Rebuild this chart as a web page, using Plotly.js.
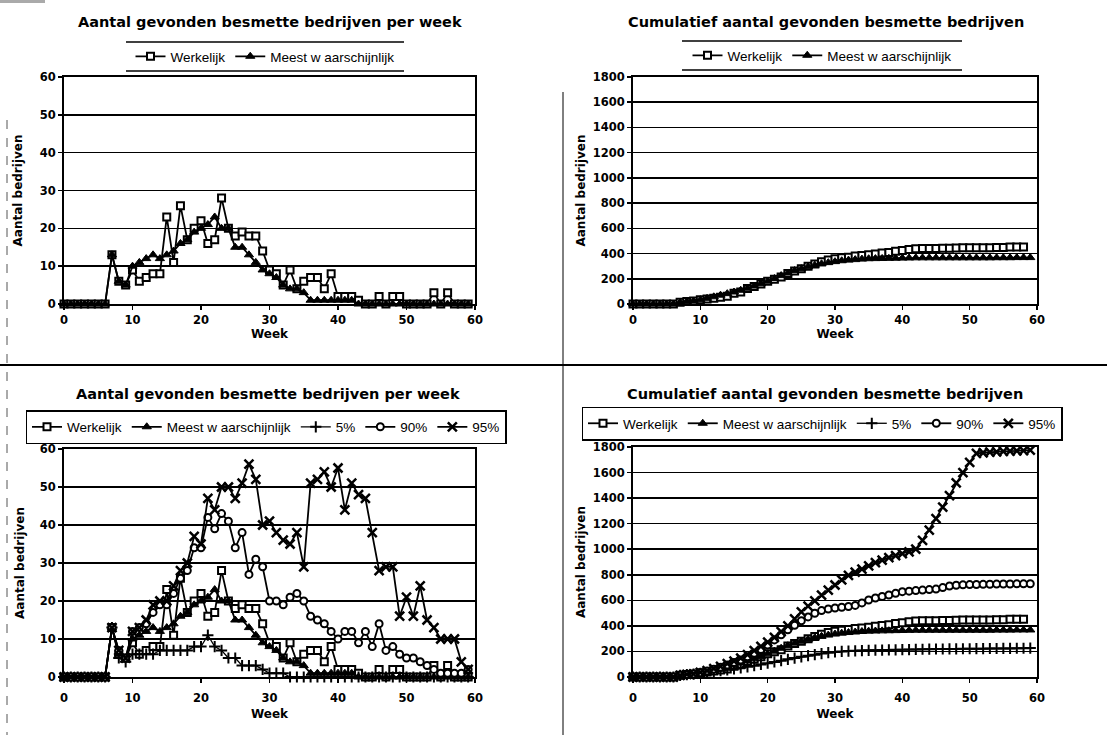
<!DOCTYPE html>
<html><head><meta charset="utf-8">
<script src="https://cdn.plot.ly/plotly-3.0.1.min.js"></script>
<style>html,body{margin:0;padding:0;background:#fff}#chart{width:1107px;height:735px}</style>
</head><body><div id="chart"></div>
<script>
// ---------- data ----------
const weeks = [0,1,2,3,4,5,6,7,8,9,10,11,12,13,14,15,16,17,18,19,20,21,22,23,24,25,26,27,28,29,
               30,31,32,33,34,35,36,37,38,39,40,41,42,43,44,45,46,47,48,49,50,51,52,53,54,55,56,57,58,59];

const seriesNames = ['Werkelijk', 'Meest w aarschijnlijk', '5%', '90%', '95%'];

const perWeekWerkelijk = [0,0,0,0,0,0,0,13,6,5, 9,6,7,8,8,23,11,26,17,20, 22,16,17,28,20,18,19,18,18,14,
                          9,8,5,9,4,6,7,7,4,8, 2,2,2,1,0,0,2,0,2,2, 0,0,0,0,3,0,3,0,0,0];
const perWeekMeest     = [0,0,0,0,0,0,0,13,6,5, 10,11,12,13,12,13,14,16,17,19, 20,21,23,20,20,15,15,13,11,9,
                          8,7,5,4,4,3,1,1,1,1, 1,1,1,0,0,0,0,0,0,0, 0,0,0,0,0,0,0,0,0,0];
const perWeek5         = [0,0,0,0,0,0,0,13,5,4, 6,6,6,6,7,7,7,7,7,8, 8,11,8,7,5,5,3,3,3,2,
                          1,1,1,0,0,0,0,0,0,0, 0,0,0,0,0,0,0,0,0,0, 0,0,0,0,0,0,0,0,0,0];
const perWeek90        = [0,0,0,0,0,0,0,13,7,5, 12,13,14,17,19,19,22,26,28,34, 34,42,39,43,41,34,38,27,31,29,
                          20,20,19,21,22,20,16,15,14,12, 10,12,12,9,12,8,14,7,8,6, 5,5,4,3,2,1,1,1,1,2];
const perWeek95        = [0,0,0,0,0,0,0,13,7,5, 12,13,15,19,20,20,24,28,30,37, 35,47,44,50,50,47,51,56,52,40,
                          41,38,36,35,38,29,51,52,54,50, 55,44,51,48,47,38,28,29,29,16, 21,16,24,15,13,10,10,10,4,2];

const cumWerkelijk = [0,0,0,0,0,0,0,13,19,24, 33,39,46,54,62,85,96,122,139,159, 181,197,214,242,262,280,299,317,335,349,
                      358,366,371,380,384,390,397,404,408,418, 425,432,438,440,440,440,442,442,444,446,
                      446,446,446,446,449,449,452,452,452,null];
const cumMeest     = [0,0,0,0,0,0,0,13,19,24, 34,45,57,70,82,95,109,125,142,161, 181,202,225,245,265,280,295,308,319,328,
                      336,343,348,352,356,359,360,361,362,363, 364,365,366,366,366,366,366,366,366,366,
                      366,366,366,366,367,367,367,368,368,368];
const cum5         = [0,0,0,0,0,0,0,13,18,23, 29,35,42,49,56,64,72,80,89,98, 108,118,128,138,148,158,167,175,183,190,
                      196,200,203,205,207,209,210,211,212,213, 214,215,216,217,218,219,219,220,220,221,
                      221,222,222,223,223,224,224,225,225,226];
const cum90        = [0,0,0,0,0,0,0,13,18,23, 34,46,60,76,94,113,134,158,185,215, 250,290,330,370,405,440,470,498,520,532,
                      540,546,552,560,580,603,618,630,642,655, 668,672,676,680,684,688,700,712,718,721,
                      723,724,725,726,727,728,728,729,729,730];
const cum95        = [0,0,0,0,0,0,0,13,20,25, 37,50,65,84,104,124,148,176,206,240, 272,310,355,400,455,510,555,595,640,680,
                      720,760,795,820,845,870,895,915,935,950, 965,980,1000,1070,1150,1240,1330,1420,1520,1600,
                      1680,1750,1755,1760,1762,1765,1767,1770,1772,1775];

const xTickVals = [0,10,20,30,40,50,60];
const yTickWeekly = [0,10,20,30,40,50,60];
const yTickCum = [0,200,400,600,800,1000,1200,1400,1600,1800];

const titleWeekly = 'Aantal gevonden besmette bedrijven per week';
const titleCum = 'Cumulatief aantal gevonden besmette bedrijven';
const xTitle = 'Week';
const yTitle = 'Aantal bedrijven';

// ---------- styling ----------
const markerStyles = [
  {symbol:'square', color:'#fff', line:{color:'#000', width:2}, size:7},
  {symbol:'triangle-up', color:'#000', line:{color:'#000', width:1}, size:8},
  {symbol:'cross-thin', color:'#000', line:{color:'#000', width:2}, size:8},
  {symbol:'circle', color:'#fff', line:{color:'#000', width:2}, size:7},
  {symbol:'x-thin', color:'#000', line:{color:'#000', width:2.5}, size:9}
];
const lineWidths = [1.8, 1.8, 1.3, 1.8, 1.8];

function mkTrace(y, idx, xa, ya, leg) {
  return {
    type:'scatter', mode:'lines+markers', x: weeks, y: y, name: seriesNames[idx],
    xaxis: xa, yaxis: ya, legend: leg, cliponaxis:false,
    line:{color:'#000', width: lineWidths[idx]},
    marker: markerStyles[idx], hoverinfo:'x+y+name'
  };
}

const data = [
  mkTrace(perWeekWerkelijk, 0, 'x', 'y', 'legend'),
  mkTrace(perWeekMeest, 1, 'x', 'y', 'legend'),
  mkTrace(cumWerkelijk, 0, 'x2', 'y2', 'legend2'),
  mkTrace(cumMeest, 1, 'x2', 'y2', 'legend2'),
  mkTrace(perWeekWerkelijk, 0, 'x3', 'y3', 'legend3'),
  mkTrace(perWeekMeest, 1, 'x3', 'y3', 'legend3'),
  mkTrace(perWeek5, 2, 'x3', 'y3', 'legend3'),
  mkTrace(perWeek90, 3, 'x3', 'y3', 'legend3'),
  mkTrace(perWeek95, 4, 'x3', 'y3', 'legend3'),
  mkTrace(cumWerkelijk, 0, 'x4', 'y4', 'legend4'),
  mkTrace(cumMeest, 1, 'x4', 'y4', 'legend4'),
  mkTrace(cum5, 2, 'x4', 'y4', 'legend4'),
  mkTrace(cum90, 3, 'x4', 'y4', 'legend4'),
  mkTrace(cum95, 4, 'x4', 'y4', 'legend4')
];

const W = 1107, H = 735;
const px = v => v / W;
const py = v => 1 - v / H;

const tickFont = {family:'DejaVu Sans', size:11.5, color:'#000', weight:700};
const axTitleFont = {family:'DejaVu Sans', size:12, color:'#000', weight:700};
const legendFont = {family:'Liberation Sans', size:13.5, color:'#000'};
const titleFont = {family:'DejaVu Sans', size:14.5, color:'#000', weight:700};

function xAxis(d0, d1, anchor, labelGap, titleGap) {
  return {domain:[px(d0), px(d1)], anchor: anchor, range:[0,60], tickvals: xTickVals, ticktext: xTickVals.map(String),
    showline:true, mirror:true, linecolor:'#000', linewidth:2, showgrid:false, zeroline:false,
    ticks:'outside', ticklen:4, tickcolor:'#000', tickwidth:1.5, tickfont: tickFont, ticklabelstandoff: labelGap,
    title:{text: xTitle, font: axTitleFont, standoff: titleGap}, fixedrange:true};
}
function yAxis(top, bottom, anchor, ticks, max, titleGap) {
  return {domain:[py(bottom), py(top)], anchor: anchor, range:[0,max], tickvals: ticks, ticktext: ticks.map(String),
    showline:true, mirror:true, linecolor:'#000', linewidth:2, showgrid:true, gridcolor:'#000', gridwidth:1.5,
    zeroline:false, ticks:'outside', ticklen:4, tickcolor:'#000', tickwidth:1.5, tickfont: tickFont,
    title:{text: yTitle, font: axTitleFont, standoff: titleGap}, fixedrange:true};
}

const L = [64, 475], R = [633, 1037];

const layout = {
  width: W, height: H, margin:{l:0, r:0, t:0, b:0}, paper_bgcolor:'#fff', plot_bgcolor:'#fff',
  showlegend:true,
  xaxis: xAxis(L[0], L[1], 'y', 0, 2),   yaxis: yAxis(77, 304, 'x', yTickWeekly, 60, 14),
  xaxis2: xAxis(R[0], R[1], 'y2', 0, 2), yaxis2: yAxis(77, 304, 'x2', yTickCum, 1800, 4),
  xaxis3: xAxis(L[0], L[1], 'y3', 5, 6), yaxis3: yAxis(449, 677, 'x3', yTickWeekly, 60, 12),
  xaxis4: xAxis(R[0], R[1], 'y4', 5, 6), yaxis4: yAxis(447, 677, 'x4', yTickCum, 1800, 4),
  legend:  {x:px(265), y:py(56.5), xanchor:'center', yanchor:'middle', orientation:'h', font:legendFont,
            bgcolor:'rgba(255,255,255,0)', borderwidth:0, traceorder:'normal'},
  legend2: {x:px(822), y:py(55.5), xanchor:'center', yanchor:'middle', orientation:'h', font:legendFont,
            bgcolor:'rgba(255,255,255,0)', borderwidth:0, traceorder:'normal'},
  legend3: {x:px(266), y:py(427), xanchor:'center', yanchor:'middle', orientation:'h', font:legendFont,
            bgcolor:'#fff', bordercolor:'#000', borderwidth:1.5, traceorder:'normal'},
  legend4: {x:px(822), y:py(423.5), xanchor:'center', yanchor:'middle', orientation:'h', font:legendFont,
            bgcolor:'#fff', bordercolor:'#000', borderwidth:1.5, traceorder:'normal'},
  annotations: [
    {text: titleWeekly, xref:'paper', yref:'paper', x:px(270), y:py(22), xanchor:'center', yanchor:'middle', showarrow:false, font:titleFont},
    {text: titleCum,    xref:'paper', yref:'paper', x:px(826), y:py(22), xanchor:'center', yanchor:'middle', showarrow:false, font:titleFont},
    {text: titleWeekly, xref:'paper', yref:'paper', x:px(268), y:py(394), xanchor:'center', yanchor:'middle', showarrow:false, font:titleFont},
    {text: titleCum,    xref:'paper', yref:'paper', x:px(825), y:py(394), xanchor:'center', yanchor:'middle', showarrow:false, font:titleFont}
  ],
  shapes: [
    // legend frame lines (top charts)
    {type:'line', xref:'paper', yref:'paper', x0:px(126), x1:px(404), y0:py(42), y1:py(42), line:{color:'#000', width:1.5}},
    {type:'line', xref:'paper', yref:'paper', x0:px(126), x1:px(404), y0:py(71), y1:py(71), line:{color:'#000', width:1.5}},
    {type:'line', xref:'paper', yref:'paper', x0:px(682), x1:px(962), y0:py(41), y1:py(41), line:{color:'#000', width:1.5}},
    {type:'line', xref:'paper', yref:'paper', x0:px(682), x1:px(962), y0:py(70), y1:py(70), line:{color:'#000', width:1.5}},
    // page separators
    {type:'line', xref:'paper', yref:'paper', x0:0, x1:1, y0:py(365), y1:py(365), line:{color:'#000', width:2}},
    {type:'line', xref:'paper', yref:'paper', x0:px(563), x1:px(563), y0:py(92), y1:py(735), line:{color:'#000', width:1}},
    {type:'line', xref:'paper', yref:'paper', x0:px(7), x1:px(7), y0:py(120), y1:py(735), line:{color:'#555', width:1, dash:'dash'}},
    {type:'rect', xref:'paper', yref:'paper', x0:0, x1:px(45), y0:py(0), y1:py(3), fillcolor:'#aaa', line:{width:0}}
  ]
};

Plotly.newPlot('chart', data, layout, {displayModeBar:false, staticPlot:true});
</script></body></html>
